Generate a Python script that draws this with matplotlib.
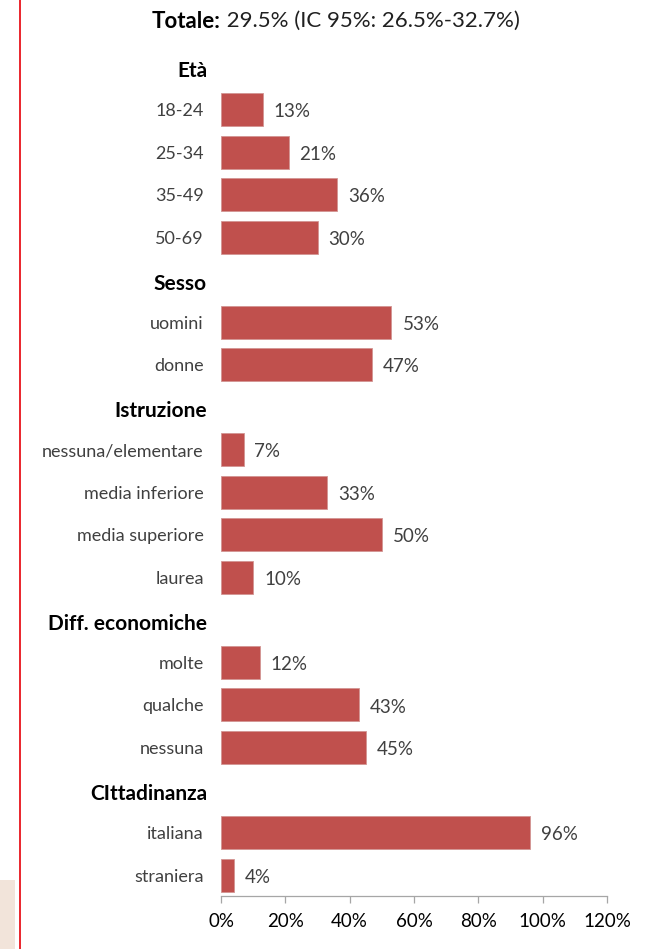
import numpy as np
import matplotlib.pyplot as plt
import matplotlib.transforms as mtransforms
from matplotlib.patches import Rectangle
from matplotlib.lines import Line2D

plt.rcParams['font.family'] = ['Lato', 'DejaVu Sans']

title_bold = "Totale:"
title_rest = " 29.5% (IC 95%: 26.5%-32.7%)"

group_names = ["Età", "Sesso", "Istruzione", "Diff. economiche", "CIttadinanza"]
eta_labels = ["18-24", "25-34", "35-49", "50-69"]
eta_values = [13, 21, 36, 30]
sesso_labels = ["uomini", "donne"]
sesso_values = [53, 47]
istruzione_labels = ["nessuna/elementare", "media inferiore", "media superiore", "laurea"]
istruzione_values = [7, 33, 50, 10]
diff_labels = ["molte", "qualche", "nessuna"]
diff_values = [12, 43, 45]
citt_labels = ["italiana", "straniera"]
citt_values = [96, 4]
xticks = [0, 20, 40, 60, 80, 100, 120]

groups = [
  (group_names[0], eta_labels, eta_values),
  (group_names[1], sesso_labels, sesso_values),
  (group_names[2], istruzione_labels, istruzione_values),
  (group_names[3], diff_labels, diff_values),
  (group_names[4], citt_labels, citt_values),
]

# flatten groups into rows: a header row (no bar) followed by the group rows
row_labels, row_values, row_is_header = [], [], []
for name, labels, values in groups:
  row_labels.append(name)
  row_values.append(np.nan)
  row_is_header.append(True)
  for lab, val in zip(labels, values):
    row_labels.append(lab)
    row_values.append(val)
    row_is_header.append(False)

n = len(row_labels)
ypos = np.arange(n)
is_hdr = np.array(row_is_header)

fig = plt.figure(figsize=(6.5, 9.49), dpi=100)
ax = fig.add_axes([221/650, 1-896.3/949, (607-221)/650, (896.3-45.7)/949])

bar_color = '#C0504D'
vals = np.array(row_values, dtype=float)
mask = ~is_hdr
ax.barh(ypos[mask], vals[mask], height=0.776, color=bar_color, edgecolor='#D39593', linewidth=0.6)

for y, v in zip(ypos[mask], vals[mask]):
  ax.text(v + 3.4, y + 0.05, "%d%%" % v, va='center', ha='left', fontsize=13.5, color='#404040')

ax.set_ylim(n - 0.5, -0.5)
ax.set_xlim(0, 120)

# category labels as ticks, group headers as separate bold text
ax.set_yticks(ypos[mask])
ax.set_yticklabels([row_labels[i] for i in ypos[mask]], fontsize=13, color='#404040')
ax.tick_params(axis='y', length=0, pad=12.5)

hdr_trans = mtransforms.blended_transform_factory(ax.transAxes, ax.transData) + \
  mtransforms.ScaledTranslation(-14/100, -4/100, fig.dpi_scale_trans)
for i in ypos[is_hdr]:
  ax.text(0, i, row_labels[i], transform=hdr_trans, ha='right', va='center',
          fontsize=15, fontweight='bold', color='black')

ax.set_xticks(xticks)
ax.set_xticklabels(["%d%%" % t for t in xticks], fontsize=13.5, color='black')
ax.tick_params(axis='x', length=5, color='#A6A6A6', width=0.9, pad=7)

for side in ['top', 'right', 'left']:
  ax.spines[side].set_visible(False)
ax.spines['bottom'].set_color('#A6A6A6')
ax.spines['bottom'].set_linewidth(0.9)

# title with bold lead-in
t1 = fig.text(152/650, 1-21/949, title_bold, fontsize=16, fontweight='bold', va='center', ha='left')
fig.canvas.draw()
bb = t1.get_window_extent()
fig.text(bb.x1/fig.bbox.width, 1-21/949, title_rest, fontsize=16, va='center', ha='left', color='#202020')

# page border and corner patch
fig.add_artist(Line2D([19.5/650, 19.5/650], [0, 1], color='#E8141B', linewidth=1.3, transform=fig.transFigure))
fig.add_artist(Rectangle((0, 0), 15/650, (949-880)/949, transform=fig.transFigure,
                         facecolor='#F2E4DA', edgecolor='none'))

fig.savefig("out.png", dpi=100)
